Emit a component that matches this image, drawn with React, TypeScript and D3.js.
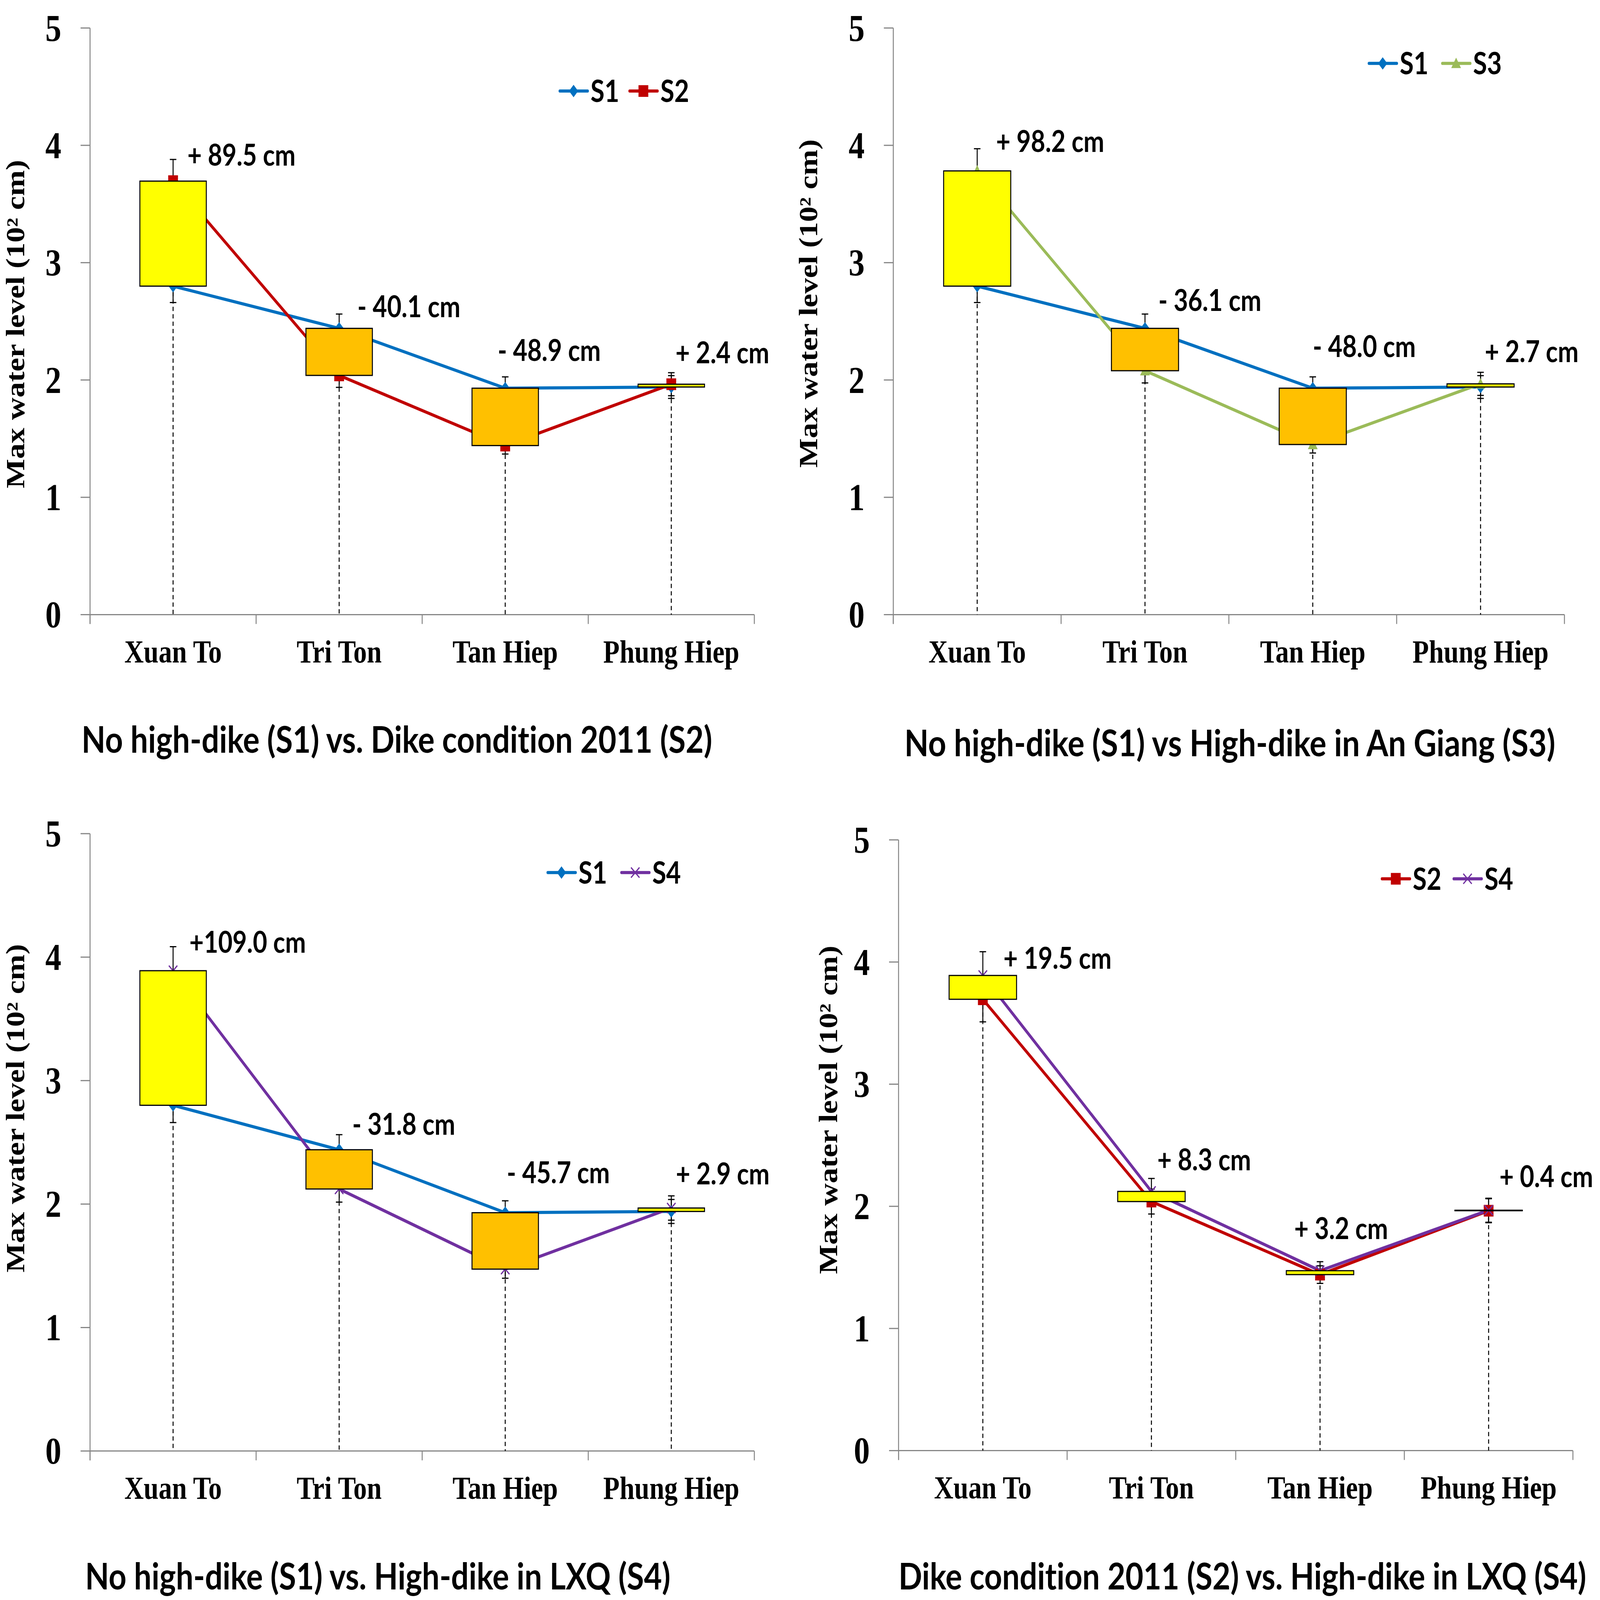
import * as d3 from "d3";

const W = 4904;
const H = 4113;

const categories = ["Xuan To", "Tri Ton", "Tan Hiep", "Phung Hiep"];
const yTicks = [0, 1, 2, 3, 4, 5];

// max water level, 10^2 cm
const s1 = [2.8, 2.44, 1.93, 1.94];
const s2 = [3.695, 2.039, 1.441, 1.964];
const s3 = [3.782, 2.079, 1.45, 1.967];
const s4 = [3.89, 2.122, 1.473, 1.968];

const notesA = ["+ 89.5 cm", "- 40.1 cm", "- 48.9 cm", "+ 2.4 cm"];
const notesB = ["+ 98.2 cm", "- 36.1 cm", "- 48.0 cm", "+ 2.7 cm"];
const notesC = ["+109.0 cm", "- 31.8 cm", "- 45.7 cm", "+ 2.9 cm"];
const notesD = ["+ 19.5 cm", "+ 8.3 cm", "+ 3.2 cm", "+ 0.4 cm"];

const titles = [
  "No high-dike (S1) vs. Dike condition 2011 (S2)",
  "No high-dike (S1) vs High-dike in An Giang (S3)",
  "No high-dike (S1) vs. High-dike in LXQ (S4)",
  "Dike condition 2011 (S2) vs. High-dike in LXQ (S4)",
];

const yTitle = "Max water level (10\u00B2 cm)";
const errPct = 0.05;

const series: Record<string, number[]> = { S1: s1, S2: s2, S3: s3, S4: s4 };
const look: Record<string, { color: string; marker: string }> = {
  S1: { color: "#0070C0", marker: "diamond" },
  S2: { color: "#C00000", marker: "square" },
  S3: { color: "#9BBB59", marker: "triangle" },
  S4: { color: "#7030A0", marker: "x" },
};

const serif = "'Liberation Serif', 'Times New Roman', serif";
const sans = "Lato, 'Open Sans', sans-serif";
const noLig = { fontVariantLigatures: "none" as const, fontFeatureSettings: "'liga' 0" };

type Spec = {
  a: string;
  b: string;
  notes: string[];
  title: string;
  x0: number;
  x1: number;
  y0: number;
  y5: number;
  notePos: [number, number][];
  legend: { y: number; xs: number[] };
  yt: { x: number; y: number };
  tt: { x: number; y: number; w: number };
};

const panels: Spec[] = [
  {
    a: "S1", b: "S2", notes: notesA, title: titles[0],
    x0: 276, x1: 2312, y0: 1580, y5: 72,
    notePos: [[44, 3.826], [56, 2.536], [-23, 2.162], [13, 2.142]],
    legend: { y: 234, xs: [1716, 1930] },
    yt: { x: 74, y: 833 },
    tt: { x: 250, y: 1935, w: 1933 },
  },
  {
    a: "S1", b: "S3", notes: notesB, title: titles[1],
    x0: 2738, x1: 4795, y0: 1580, y5: 72,
    notePos: [[58, 3.942], [41, 2.59], [0, 2.195], [13, 2.152]],
    legend: { y: 163, xs: [4196, 4421] },
    yt: { x: 2505, y: 780 },
    tt: { x: 2772, y: 1944, w: 1995 },
  },
  {
    a: "S1", b: "S4", notes: notesC, title: titles[2],
    x0: 276, x1: 2312, y0: 3730, y5: 2143,
    notePos: [[50, 4.036], [40, 2.561], [5, 2.168], [14, 2.158]],
    legend: { y: 2243, xs: [1679, 1905] },
    yt: { x: 74, y: 2849 },
    tt: { x: 261, y: 4086, w: 1794 },
  },
  {
    a: "S2", b: "S4", notes: notesD, title: titles[3],
    x0: 2754, x1: 4821, y0: 3729, y5: 2159,
    notePos: [[63, 3.946], [18, 2.296], [-79, 1.732], [33, 2.156]],
    legend: { y: 2259, xs: [4236, 4456] },
    yt: { x: 2566, y: 2853 },
    tt: { x: 2754, y: 4086, w: 2108 },
  },
];

function Marker({ kind, color, px, py }: { kind: string; color: string; px: number; py: number }) {
  if (kind === "diamond")
    return <path d={`M${px},${py - 16}L${px + 14},${py}L${px},${py + 16}L${px - 14},${py}Z`} fill={color} />;
  if (kind === "square")
    return <rect x={px - 15} y={py - 15} width={30} height={30} fill={color} />;
  if (kind === "triangle")
    return <path d={`M${px},${py - 15}L${px + 15},${py + 12}L${px - 15},${py + 12}Z`} fill={color} />;
  return (
    <path
      d={`M${px - 13},${py - 13}L${px + 13},${py + 13}M${px - 13},${py + 13}L${px + 13},${py - 13}`}
      stroke={color}
      strokeWidth={3.5}
      fill="none"
    />
  );
}

function Panel({ p }: { p: Spec }) {
  const x = d3.scaleBand<string>().domain(categories).range([p.x0, p.x1]).padding(0);
  const y = d3.scaleLinear().domain([0, 5]).range([p.y0, p.y5]);
  const bw = x.bandwidth();
  const cx = (i: number) => (x(categories[i]) ?? 0) + bw / 2;
  const A = series[p.a];
  const B = series[p.b];
  const line = d3.line<number>().x((_, i) => cx(i)).y((d) => y(d));
  const bounds = [p.x0, ...categories.map((c) => (x(c) ?? 0) + bw)];
  const boxW = bw * 0.4;
  const cap = 10;

  return (
    <g>
      {/* axes */}
      <g stroke="#868686" strokeWidth={3}>
        <line x1={p.x0} x2={p.x0} y1={p.y5} y2={p.y0 + 24} />
        <line x1={p.x0} x2={p.x1} y1={p.y0} y2={p.y0} />
        {yTicks.map((t) => (
          <line key={t} x1={p.x0 - 29} x2={p.x0} y1={y(t)} y2={y(t)} />
        ))}
        {bounds.map((bx, i) => (
          <line key={i} x1={bx} x2={bx} y1={p.y0} y2={p.y0 + 24} />
        ))}
      </g>
      {yTicks.map((t) => (
        <text key={t} x={p.x0 - 88} y={y(t) + 33} textAnchor="end" fontFamily={serif} fontWeight={700} fontSize={98}>
          {t}
        </text>
      ))}
      {categories.map((c, i) => (
        <text key={c} x={cx(i)} y={p.y0 + 123} textAnchor="middle" fontFamily={serif} fontWeight={700} fontSize={82}>
          {c}
        </text>
      ))}
      <text
        transform={`translate(${p.yt.x},${p.yt.y}) rotate(-90)`}
        textAnchor="middle"
        fontFamily={serif}
        fontWeight={700}
        fontSize={80}
      >
        {yTitle}
      </text>

      {/* drop lines */}
      {categories.map((c, i) => (
        <line
          key={c}
          x1={cx(i)}
          x2={cx(i)}
          y1={y(Math.max(A[i], B[i]))}
          y2={p.y0}
          stroke="#000"
          strokeWidth={3}
          strokeDasharray="11 8"
        />
      ))}

      {/* error bars, 5 % */}
      {[A, B].map((s, k) =>
        s.map((v, i) => {
          const hi = y(v * (1 + errPct));
          const lo = y(v * (1 - errPct));
          const px = cx(i);
          return (
            <g key={`${k}-${i}`} stroke="#000" strokeWidth={3}>
              <line x1={px} x2={px} y1={hi} y2={lo} />
              <line x1={px - cap} x2={px + cap} y1={hi} y2={hi} />
              <line x1={px - cap} x2={px + cap} y1={lo} y2={lo} />
            </g>
          );
        })
      )}

      {/* series */}
      {[p.a, p.b].map((k) => (
        <path key={k} d={line(series[k]) ?? ""} fill="none" stroke={look[k].color} strokeWidth={8} strokeLinejoin="round" />
      ))}
      {[p.a, p.b].map((k) =>
        series[k].map((v, i) => <Marker key={`${k}${i}`} kind={look[k].marker} color={look[k].color} px={cx(i)} py={y(v)} />)
      )}

      {/* up/down bars */}
      {categories.map((c, i) => {
        const top = y(Math.max(A[i], B[i]));
        const bot = y(Math.min(A[i], B[i]));
        return (
          <rect
            key={c}
            x={cx(i) - boxW / 2}
            y={top}
            width={boxW}
            height={Math.max(bot - top, 0.5)}
            fill={B[i] >= A[i] ? "#FFFF00" : "#FFC000"}
            stroke="#000"
            strokeWidth={3}
          />
        );
      })}

      {/* difference notes */}
      {p.notes.map((n, i) => (
        <text key={i} x={cx(i) + p.notePos[i][0]} y={y(p.notePos[i][1])} fontFamily={sans} fontWeight={700} fontSize={76} style={noLig}>
          {n}
        </text>
      ))}

      {/* legend */}
      {[p.a, p.b].map((k, j) => {
        const lx = p.legend.xs[j];
        return (
          <g key={k}>
            <line x1={lx} x2={lx + 85} y1={p.legend.y} y2={p.legend.y} stroke={look[k].color} strokeWidth={8} strokeLinecap="round" />
            <Marker kind={look[k].marker} color={look[k].color} px={lx + 42} py={p.legend.y} />
            <text x={lx + 94} y={p.legend.y + 28} fontFamily={sans} fontWeight={700} fontSize={78}>
              {k}
            </text>
          </g>
        );
      })}

      <text
        x={p.tt.x}
        y={p.tt.y}
        textLength={p.tt.w}
        lengthAdjust="spacingAndGlyphs"
        fontFamily={sans}
        fontWeight={700}
        fontSize={94}
        style={noLig}
      >
        {p.title}
      </text>
    </g>
  );
}

export default function App() {
  return (
    <svg
      viewBox={`0 0 ${W} ${H}`}
      preserveAspectRatio="none"
      style={{ position: "absolute", left: 0, top: 0, width: "100vw", height: "100vh", display: "block" }}
    >
      <rect width={W} height={H} fill="#fff" />
      {panels.map((p, i) => (
        <Panel key={i} p={p} />
      ))}
    </svg>
  );
}
